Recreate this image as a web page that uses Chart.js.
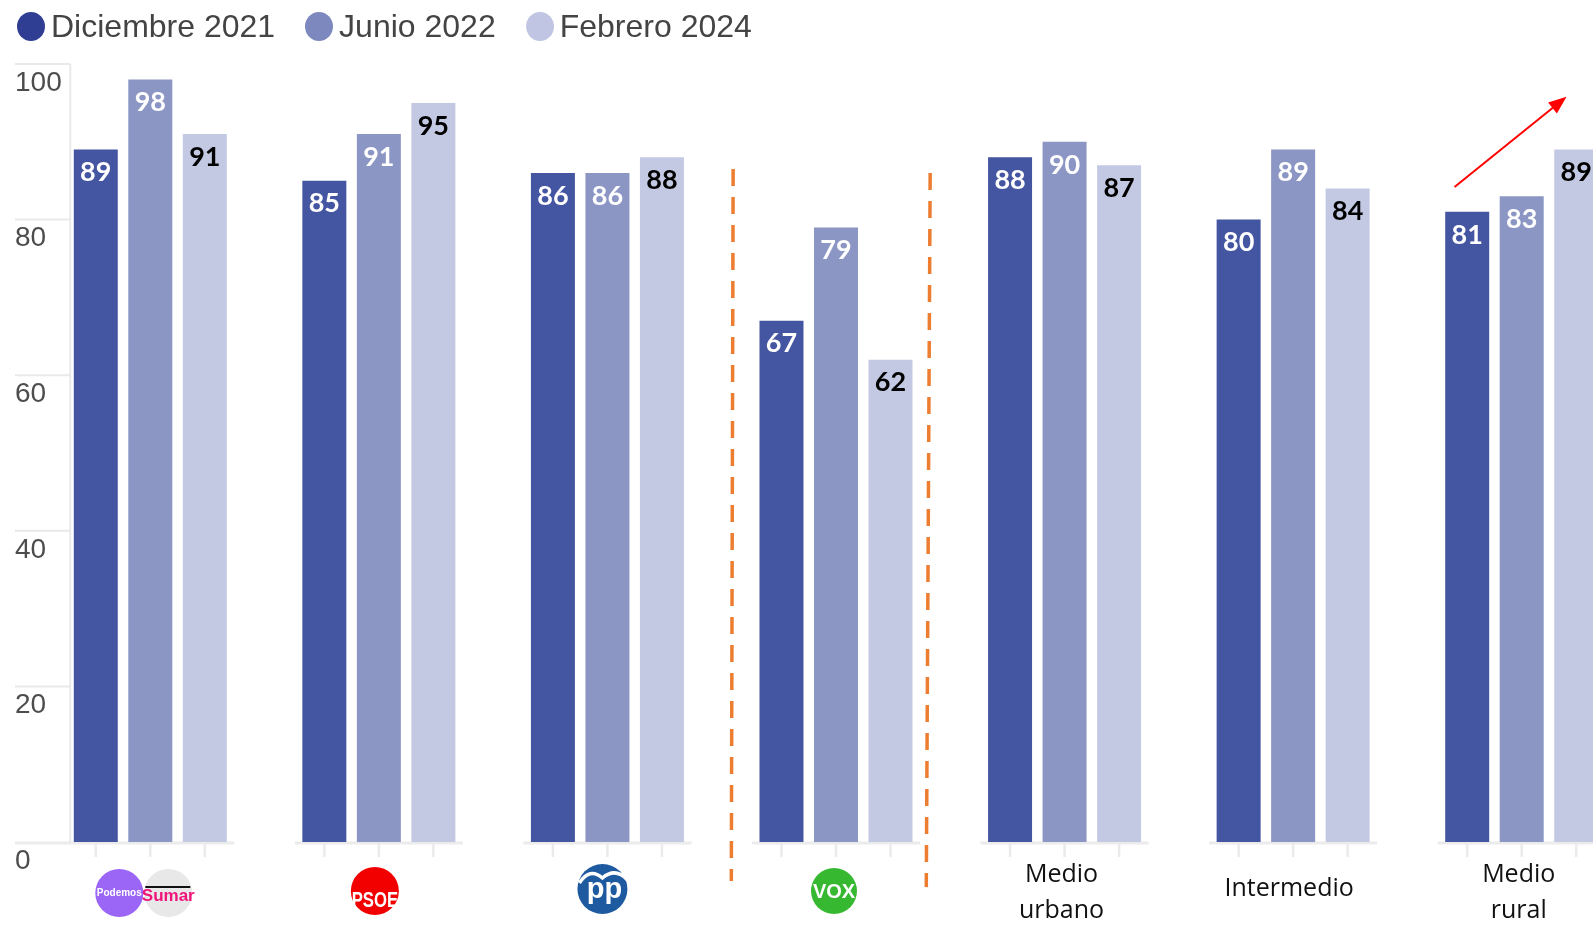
<!DOCTYPE html>
<html>
<head>
<meta charset="utf-8">
<script src="https://cdn.jsdelivr.net/npm/chart.js@4.4.1/dist/chart.umd.min.js"></script>
<style>
  html, body { margin: 0; padding: 0; background: #fff; width: 1593px; height: 925px; overflow: hidden; }
  #wrap { position: absolute; left: 0; top: 0; width: 1636px; height: 925px; }
  #legend { position: absolute; left: 17px; top: 8px; display: flex; align-items: center; z-index: 2;
            font-family: "Liberation Sans", Arial, sans-serif; font-size: 32px; color: #444; }
  .item { display: flex; align-items: center; margin-right: 30px; }
  .dot { width: 28px; height: 29px; border-radius: 50%; margin-right: 6px; }
</style>
</head>
<body>
<div id="legend"></div>
<div id="wrap"><canvas id="chart"></canvas></div>
<script>
// Data
const categories = ['Podemos/Sumar', 'PSOE', 'PP', 'VOX', 'Medio urbano', 'Intermedio', 'Medio rural']
const seriesNames = ['Diciembre 2021', 'Junio 2022', 'Febrero 2024']
const dic2021 = [89, 85, 86, 67, 88, 80, 81]
const jun2022 = [98, 91, 86, 79, 90, 89, 83]
const feb2024 = [91, 95, 88, 62, 87, 84, 89]
const yTicks = [0, 20, 40, 60, 80, 100]
const textLabels = [null, null, null, null, ['Medio', 'urbano'], ['Intermedio'], ['Medio', 'rural']]

// Styles
const barColors = ['#4455a1', '#8b96c4', '#c4c9e3']
const legendColors = ['#2f3e92', '#7d88bf', '#bfc5e2']
const valueColors = ['#ffffff', '#ffffff', '#000000']

// Annotations (in scale values: x = category index, y = value)
const dashedLines = [
    { x1: 2.550, y1: 86.5, x2: 2.542, y2: -5.0 },
    { x1: 3.412, y1: 86.0, x2: 3.395, y2: -5.8 },
]
const arrow = { x1: 5.706, y1: 84.2, x2: 6.196, y2: 95.8 }

// Legend (html)
const legendEl = document.getElementById('legend')
seriesNames.forEach((name, i) => {
    legendEl.innerHTML += `<div class="item"><span class="dot" style="background:${legendColors[i]}"></span><span>${name}</span></div>`
})

const line = (ctx, x1, y1, x2, y2) => {
    ctx.beginPath()
    ctx.moveTo(x1, y1)
    ctx.lineTo(x2, y2)
    ctx.stroke()
}

const circle = (ctx, x, y, r, color) => {
    ctx.beginPath()
    ctx.arc(x, y, r, 0, Math.PI * 2)
    ctx.fillStyle = color
    ctx.fill()
}

const drawLogo = (ctx, i, cx, cy) => {
    ctx.textAlign = 'center'
    ctx.textBaseline = 'alphabetic'
    if (i === 0) {
        circle(ctx, cx - 31, cy, 24, '#9b66f6')
        ctx.fillStyle = '#fff'
        ctx.font = 'bold 10px "Liberation Sans"'
        ctx.fillText('Podemos', cx - 31, cy + 3)
        circle(ctx, cx + 18, cy, 24, '#e8e8e8')
        ctx.strokeStyle = '#111'
        ctx.lineWidth = 2
        line(ctx, cx - 5, cy - 6, cx + 40, cy - 6)
        ctx.fillStyle = '#f0147a'
        ctx.font = 'bold 17px "Liberation Sans"'
        ctx.fillText('Sumar', cx + 18, cy + 8)
    } else if (i === 1) {
        circle(ctx, cx - 4, cy - 2, 24, '#f20000')
        ctx.save()
        ctx.translate(cx - 4, cy + 6)
        ctx.scale(0.76, 1)
        ctx.fillStyle = '#fff'
        ctx.font = 'bold 22px "Liberation Sans"'
        ctx.fillText('PSOE', 0, 8)
        ctx.restore()
    } else if (i === 2) {
        circle(ctx, cx - 5, cy - 4, 25, '#1e5a9f')
        ctx.fillStyle = '#fff'
        ctx.font = 'bold 29px "Liberation Sans"'
        ctx.fillText('pp', cx - 3, cy + 5)
        ctx.strokeStyle = '#fff'
        ctx.lineWidth = 3.5
        ctx.beginPath()
        ctx.moveTo(cx - 28, cy - 10)
        ctx.quadraticCurveTo(cx - 18, cy - 26, cx - 5, cy - 15)
        ctx.quadraticCurveTo(cx + 8, cy - 26, cx + 20, cy - 13)
        ctx.stroke()
    } else if (i === 3) {
        circle(ctx, cx - 2, cy - 2, 23, '#36b831')
        ctx.fillStyle = '#fff'
        ctx.font = 'bold 20px "Liberation Sans"'
        ctx.fillText('VOX', cx - 2, cy + 5)
    }
}

const decor = {
    id: 'decor',
    beforeDatasetsDraw(chart) {
        const { ctx, scales: { x, y } } = chart
        const base = y.getPixelForValue(0)
        const axisX = x.getPixelForValue(0) - 80
        ctx.save()
        ctx.strokeStyle = '#e9e9e9'
        ctx.lineWidth = 2
        line(ctx, axisX, y.getPixelForValue(yTicks[yTicks.length - 1]), axisX, base)
        ctx.fillStyle = '#4d4d4d'
        ctx.font = '28px "Liberation Sans"'
        ctx.textAlign = 'left'
        ctx.textBaseline = 'middle'
        yTicks.forEach(v => {
            const py = y.getPixelForValue(v)
            if (v > 0) line(ctx, 15, py, axisX, py)
            ctx.fillText(String(v), 15, py + 19)
        })
        // group baselines and ticks
        categories.forEach((c, i) => {
            const cx = x.getPixelForValue(i)
            ctx.strokeStyle = '#ebebeb'
            ctx.lineWidth = 3
            line(ctx, i === 0 ? 15 : cx - 84, base + 1, cx + 84, base + 1)
            ctx.lineWidth = 2.5
            chart.data.datasets.forEach((ds, d) => {
                const bar = chart.getDatasetMeta(d).data[i]
                line(ctx, bar.x, base, bar.x, base + 15)
            })
        })
        ctx.restore()
    },
    afterDatasetsDraw(chart) {
        const { ctx, scales: { x, y } } = chart
        ctx.save()
        // value labels
        ctx.font = 'bold 27px Lato'
        ctx.textAlign = 'center'
        ctx.textBaseline = 'middle'
        chart.data.datasets.forEach((ds, d) => {
            ctx.fillStyle = valueColors[d]
            chart.getDatasetMeta(d).data.forEach((bar, i) => {
                ctx.fillText(String(ds.data[i]), bar.x, bar.y + 23)
            })
        })
        // category labels and logos
        categories.forEach((c, i) => {
            const cx = x.getPixelForValue(i)
            if (textLabels[i]) {
                ctx.fillStyle = '#111'
                ctx.font = '25px "Open Sans"'
                ctx.textAlign = 'center'
                ctx.textBaseline = 'middle'
                const lines = textLabels[i]
                if (lines.length === 1) {
                    ctx.fillText(lines[0], cx - 4, 889)
                } else {
                    ctx.fillText(lines[0], cx - 3, 875)
                    ctx.fillText(lines[1], cx - 3, 911)
                }
            } else {
                drawLogo(ctx, i, cx, 893)
            }
        })
        // orange dashed separators
        ctx.strokeStyle = '#ed7d31'
        ctx.lineWidth = 3.5
        ctx.setLineDash([17, 11])
        dashedLines.forEach(l => {
            line(ctx, x.getPixelForValue(l.x1), y.getPixelForValue(l.y1), x.getPixelForValue(l.x2), y.getPixelForValue(l.y2))
        })
        ctx.setLineDash([])
        // red arrow
        const ax1 = x.getPixelForValue(arrow.x1), ay1 = y.getPixelForValue(arrow.y1)
        const ax2 = x.getPixelForValue(arrow.x2), ay2 = y.getPixelForValue(arrow.y2)
        const ang = Math.atan2(ay2 - ay1, ax2 - ax1)
        ctx.strokeStyle = '#ff0000'
        ctx.fillStyle = '#ff0000'
        ctx.lineWidth = 2
        line(ctx, ax1, ay1, ax2 - 14 * Math.cos(ang), ay2 - 14 * Math.sin(ang))
        ctx.beginPath()
        ctx.moveTo(ax2, ay2)
        ctx.lineTo(ax2 - 18 * Math.cos(ang) + 7 * Math.sin(ang), ay2 - 18 * Math.sin(ang) - 7 * Math.cos(ang))
        ctx.lineTo(ax2 - 18 * Math.cos(ang) - 7 * Math.sin(ang), ay2 - 18 * Math.sin(ang) + 7 * Math.cos(ang))
        ctx.closePath()
        ctx.fill()
        ctx.restore()
    }
}

const chart = new Chart(document.getElementById('chart'), {
    type: 'bar',
    data: {
        labels: categories,
        datasets: [
            { label: seriesNames[0], data: dic2021, backgroundColor: barColors[0] },
            { label: seriesNames[1], data: jun2022, backgroundColor: barColors[1] },
            { label: seriesNames[2], data: feb2024, backgroundColor: barColors[2] },
        ]
    },
    options: {
        responsive: true,
        maintainAspectRatio: false,
        animation: false,
        layout: { padding: { left: 36, right: 0, top: 64, bottom: 83 } },
        datasets: { bar: { categoryPercentage: 0.7155, barPercentage: 0.807 } },
        plugins: {
            legend: { display: false },
            tooltip: { enabled: false }
        },
        scales: {
            x: { display: false },
            y: { display: false, min: 0, max: 100 }
        }
    },
    plugins: [decor]
})
</script>
</body>
</html>
